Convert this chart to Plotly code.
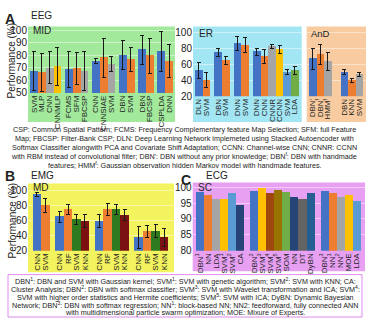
import plotly.graph_objects as go

W, H = 366, 324
FONT = "Liberation Sans, Arial, sans-serif"

# ---------------- colours (style) ----------------
BLUE = "#4472C4"; ORANGE = "#ED7D31"; GRAY = "#A5A5A5"; YELLOW = "#FFC000"
LBLUE = "#5B9BD5"; GREEN = "#70AD47"; DKBLUE = "#264478"; BROWN = "#9E480E"
DKGRAY = "#636363"; OLIVE = "#997300"; TEAL = "#255E91"
EMG_GREEN = "#2E7A1E"; EMG_RED = "#7B1111"

# ---------------- data ----------------
mid_groups = [["SVM", "MLP", "CNN", "CNNMLP"], ["FCMS", "SFM", "FBCSP"],
              ["CNN", "CNNSIAE", "SVM"], ["DBN", "SVM"], ["DBN", "FBCSP"], ["CSPLDA", "DNN"]]
mid_values = [67.6, 66.1, 70.0, 71.2, 68.9, 69.4, 67.6, 75.4, 78.0, 72.8,
              80.3, 76.4, 84.5, 79.8, 82.9, 75.4]
mid_errors = [15.4, 15.0, 12.8, 15.3, 14.2, 13.0, 15.4, 2.0, 15.3, 6.0,
              11.7, 9.5, 11.4, 14.0, 16.0, 13.4]

er_groups = [["DLN", "SVM"], ["DBN", "SVM"], ["DNN", "SVM"],
             ["DNN", "CNN", "CNNR", "CCNN", "SVM", "LDA"]]
er_values = [52.4, 40.1, 75.4, 64.7, 86.5, 84.4, 76.2, 70.5, 83.2, 79.1, 50.8, 52.9]
er_errors = [10.3, 9.6, 5.0, 5.0, 8.9, 9.6, 4.7, 9.0, 2.5, 4.7, 3.0, 5.0]

and_groups = [["DBN'", "DBN<sup>f</sup>", "HMM<sup>f</sup>"], ["DBN", "KNN", "SVM"]]
and_values = [67.3, 72.6, 63.9, 50.8, 39.7, 47.9]
and_errors = [13.0, 12.3, 11.7, 3.0, 2.7, 2.7]

emg_groups = [["CNN", "SVM"], ["CNN", "RF", "SVM", "KNN"],
              ["CNN", "RF", "SVM", "KNN"], ["CNN", "RF", "SVM", "KNN"]]
emg_values = [94.8, 80.0, 65.2, 74.8, 61.7, 59.6, 59.6, 74.8, 74.8, 67.4,
              37.8, 45.7, 45.7, 37.8]
emg_errors = [3.0, 9.5, 7.4, 6.3, 6.7, 8.7, 8.7, 8.5, 6.0, 7.6, 14.3, 7.8, 8.7, 12.0]

ecg_groups = [["DBN<sup>1</sup>", "NN", "LDA", "SVM<sup>1</sup>", "SVM<sup>2</sup>", "CA"],
              ["DBN<sup>2</sup>", "SVM<sup>3</sup>", "SVM<sup>4</sup>", "SVM<sup>5</sup>",
               "SOM", "NN", "DT", "DyBN"],
              ["DBN<sup>3</sup>", "NN<sup>1</sup>", "NN<sup>2</sup>", "MOE", "LDA"]]
ecg_values = [98.5, 97.4, 96.2, 96.1, 98.05, 94.15,
              98.8, 99.7, 98.15, 98.9, 98.5, 96.7, 96.1, 98.05,
              98.7, 98.15, 96.9, 97.4, 95.6]

# ---------------- styles ----------------
mid_colors = [BLUE, ORANGE, GRAY, YELLOW, BLUE, ORANGE, GRAY, BLUE, ORANGE, GRAY,
              BLUE, ORANGE, BLUE, ORANGE, BLUE, ORANGE]
er_colors = [BLUE, ORANGE, BLUE, ORANGE, BLUE, ORANGE, BLUE, ORANGE, GRAY, YELLOW, LBLUE, GREEN]
and_colors = [BLUE, ORANGE, GRAY, BLUE, ORANGE, GRAY]
emg_colors = [BLUE, ORANGE] + [BLUE, ORANGE, EMG_GREEN, EMG_RED] * 3
ecg_colors = [BLUE, ORANGE, GRAY, YELLOW, LBLUE, DKBLUE,
              BLUE, YELLOW, BROWN, OLIVE, GREEN, DKBLUE, DKGRAY, TEAL,
              BLUE, ORANGE, GRAY, YELLOW, LBLUE]


def positions(groups, gap):
    pos, labels, x = [], [], 0.0
    for g in groups:
        for lab in g:
            pos.append(x)
            labels.append(lab)
            x += 1
        x += gap
    return pos, labels


def px_x(x):
    return x / W


def px_y(y):
    return 1 - y / H


fig = go.Figure()
layout = dict()

panels = [
    # name, groups, values, errors, colors, gap, xdom, bars, ydom, yrange, dtick, showy
    ("", mid_groups, mid_values, mid_errors, mid_colors, 0.45, (28, 175), (30, 173), (25, 93.3), (50, 103.1), 10, True),
    ("2", er_groups, er_values, er_errors, er_colors, 0.55, (193, 301.7), (195, 298.5), (25, 96.7), (20, 108.2), 20, True),
    ("3", and_groups, and_values, and_errors, and_colors, 1.2, (306.7, 366), (309, 363), (25, 96.7), (20, 108.2), 20, False),
    ("4", emg_groups, emg_values, emg_errors, emg_colors, 0.66, (28, 174), (32.7, 168.3), (186, 255), (20, 109.5), 20, True),
    ("5", ecg_groups, ecg_values, None, ecg_colors, 0.75, (192.7, 365), (196, 360.3), (186, 255), (80, 101.2), 5, True),
]

for name, groups, vals, errs, cols, gap, xdom, bars, ydom, yrng, dtick, showy in panels:
    pos, labels = positions(groups, gap)
    span_units = pos[-1] - pos[0] + 1
    u = (bars[1] - bars[0]) / span_units
    r0 = pos[0] - 0.5 - (bars[0] - xdom[0]) / u
    r1 = pos[-1] + 0.5 + (xdom[1] - bars[1]) / u
    tr = dict(x=pos, y=vals, width=1.0,
              marker=dict(color=cols, line=dict(width=0)),
              xaxis="x" + name, yaxis="y" + name, showlegend=False)
    if errs is not None:
        tr["error_y"] = dict(type="data", array=errs, visible=True,
                             color="#1a1a1a", thickness=1, width=2)
    fig.add_trace(go.Bar(**tr))
    layout["xaxis" + name] = dict(
        domain=[px_x(xdom[0]), px_x(xdom[1])], range=[r0, r1],
        tickmode="array", tickvals=pos, ticktext=labels, tickangle=-90,
        tickfont=dict(family=FONT, size=8, color="#222"),
        showgrid=False, zeroline=False, showline=False, ticks="",
        anchor="y" + name, fixedrange=True)
    layout["yaxis" + name] = dict(
        domain=[px_y(ydom[1]), px_y(ydom[0])], range=list(yrng),
        tick0=yrng[0], dtick=dtick, showticklabels=showy,
        tickfont=dict(family=FONT, size=10, color="#222"),
        showgrid=True, gridcolor="rgba(255,255,255,0.45)", gridwidth=1,
        zeroline=False, showline=False, ticks="",
        anchor="x" + name, fixedrange=True)

# background panels
bgs = [
    ((28, 175), (25, 123), "#A3E99C"),
    ((193, 301.7), (25, 123), "#A2E6F3"),
    ((306.7, 366), (25, 123), "#F8CCA0"),
    ((28, 174), (186, 277), "#F3F35F"),
    ((192.7, 365), (185, 276), "#E7A0F2"),
]
shapes = []
for (x0, x1), (y0, y1), c in bgs:
    shapes.append(dict(type="rect", xref="paper", yref="paper",
                       x0=px_x(x0), x1=px_x(x1), y0=px_y(y1), y1=px_y(y0),
                       fillcolor=c, line=dict(width=0), layer="below"))
# caption box for C
shapes.append(dict(type="rect", xref="paper", yref="paper",
                   x0=px_x(8), x1=px_x(362), y0=px_y(323), y1=px_y(279.5),
                   fillcolor="#FFFFFF", line=dict(color="#E08AEE", width=1), layer="below"))

annotations = []


def text(x, y, s, size=10, bold=False, anchor="left", angle=0, color="#222"):
    if bold:
        s = "<b>" + s + "</b>"
    annotations.append(dict(x=px_x(x), y=px_y(y), xref="paper", yref="paper",
                            text=s, showarrow=False, xanchor=anchor, yanchor="middle",
                            textangle=angle,
                            font=dict(family=FONT, size=size, color=color)))


text(3, 17, "A", 14, bold=True)
text(29, 14, "EEG", 10)
text(3, 178, "B", 14, bold=True)
text(29, 178, "EMG", 10)
text(179, 182, "C", 14, bold=True)
text(204, 178, "ECG", 10)

text(31, 29.5, "MID", 10)
text(197, 32, "ER", 10)
text(309, 32, "AnD", 9.5)
text(31, 190, "MD", 10)
text(196, 190, "SC", 10)

text(12, 60, "Performance (%)", 10, anchor="center", angle=-90)
text(12, 224, "Performance (%)", 10, anchor="center", angle=-90)

cap_a = [
    "CSP: Common Spatial Pattern; FCMS: Frequency Complementary feature Map Selection; SFM: full Feature",
    "Map; FBCSP: Filter-Bank CSP; DLN: Deep Learning Network implemeted using Stacked Autoencoder with",
    "Softmax Classifier alongwith PCA and Covariate Shift Adaptation; CCNN: Channel-wise CNN; CNNR: CCNN",
    "with RBM instead of convolutional filter; DBN': DBN without any prior knowledge; DBN<sup>f</sup>: DBN with handmade",
    "features; HMM<sup>f</sup>: Gaussian observation hidden Markov model with handmade features.",
]
cap_a_y = [130.7, 140, 149, 158, 167]
for s, y in zip(cap_a, cap_a_y):
    text(184, y, s, 7.2, anchor="center", color="#222")

cap_c = [
    "DBN<sup>1</sup>: DBN and SVM with Gaussian kernel; SVM<sup>1</sup>: SVM with genetic algorithm; SVM<sup>2</sup>: SVM with KNN; CA:",
    "Cluster Analysis; DBN<sup>2</sup>: DBN with softmax classifier; SVM<sup>3</sup>: SVM with Wavelet transformation and ICA; SVM<sup>4</sup>:",
    "SVM with higher order statistics and Hermite coefficients; SVM<sup>5</sup>: SVM with ICA; DyBN: Dynamic Bayesian",
    "Network; DBN<sup>3</sup>: DBN with softmax regression; NN<sup>1</sup>: block-based NN; NN2: feedforward, fully connected ANN",
    "with multidimensional particle swarm optimization; MOE: Mixure of Experts.",
]
cap_c_y = [286.5, 294.5, 302.5, 310.5, 318.5]
for s, y in zip(cap_c, cap_c_y):
    text(185, y, s, 7.2, anchor="center", color="#222")

fig.update_layout(
    width=W, height=H, margin=dict(l=0, r=0, t=0, b=0),
    paper_bgcolor="white", plot_bgcolor="rgba(0,0,0,0)",
    bargap=0, shapes=shapes, annotations=annotations,
    font=dict(family=FONT, color="#222"),
    **layout,
)
fig.write_html("out.html", config={"displayModeBar": False})
